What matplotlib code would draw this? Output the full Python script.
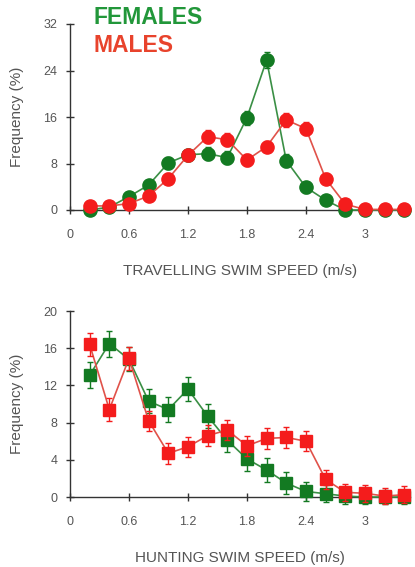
import matplotlib
matplotlib.use("Agg")
import matplotlib.pyplot as plt

plt.rcParams['font.family'] = ['Liberation Sans', 'DejaVu Sans']

speed = [0.2, 0.4, 0.6, 0.8, 1.0, 1.2, 1.4, 1.6, 1.8, 2.0, 2.2, 2.4, 2.6, 2.8, 3.0, 3.2, 3.4]

trav_female = [0.0, 0.5, 2.3, 4.3, 8.1, 9.5, 9.7, 9.0, 15.9, 25.8, 8.5, 3.9, 1.7, 0.0, 0.0, 0.0, 0.0]
trav_female_err = [0.6, 0.6, 0.8, 0.9, 1.0, 1.0, 1.1, 1.1, 1.2, 1.4, 1.1, 0.9, 0.8, 0.5, 0.4, 0.4, 0.4]
trav_male = [0.7, 0.7, 1.1, 2.4, 5.4, 9.4, 12.6, 12.1, 8.6, 10.9, 15.5, 14.0, 5.4, 1.0, 0.1, 0.1, 0.1]
trav_male_err = [0.5, 0.5, 0.6, 0.8, 0.9, 1.0, 1.1, 1.1, 1.0, 1.0, 1.2, 1.1, 0.9, 0.6, 0.4, 0.4, 0.4]

hunt_female = [13.1, 16.5, 14.8, 10.3, 9.4, 11.6, 8.7, 6.1, 4.1, 2.9, 1.5, 0.6, 0.35, 0.1, 0.0, 0.0, 0.0]
hunt_female_err = [1.4, 1.4, 1.3, 1.3, 1.3, 1.3, 1.3, 1.3, 1.3, 1.3, 1.2, 1.0, 0.9, 0.8, 0.7, 0.7, 0.7]
hunt_male = [16.4, 9.4, 14.9, 8.2, 4.7, 5.4, 6.6, 7.2, 5.5, 6.3, 6.4, 6.0, 1.9, 0.5, 0.4, 0.1, 0.25]
hunt_male_err = [1.2, 1.2, 1.2, 1.1, 1.1, 1.1, 1.1, 1.1, 1.1, 1.1, 1.1, 1.1, 1.0, 0.9, 0.9, 0.9, 0.9]

x_ticks = [0, 0.6, 1.2, 1.8, 2.4, 3.0]
x_ticklabels = ["0", "0.6", "1.2", "1.8", "2.4", "3"]
top_yticks = [0, 8, 16, 24, 32]
bot_yticks = [0, 4, 8, 12, 16, 20]

GREEN_MK = '#137a22'
GREEN_LN = '#3a8f45'
RED_MK = '#f41c1c'
RED_LN = '#e0524a'
GRAY = '#555555'

fig = plt.figure(figsize=(4.15, 5.67), dpi=100)
ax1 = fig.add_axes([70/415, 1-210/567, 340/415, 186/567])
ax2 = fig.add_axes([70/415, 1-497/567, 340/415, 186/567])


def style(ax, yticks, xlabel):
    ax.set_xlim(0, 340/98.3)
    ax.set_ylim(0, yticks[-1])
    for s in ['top', 'right']:
        ax.spines[s].set_visible(False)
    ax.spines['left'].set_color('#333333')
    ax.spines['bottom'].set_color('#333333')
    ax.spines['left'].set_linewidth(1.0)
    ax.spines['bottom'].set_linewidth(1.0)
    ax.set_xticks(x_ticks)
    ax.set_xticklabels(x_ticklabels)
    ax.set_yticks(yticks)
    ax.tick_params(direction='inout', length=6, width=1.0, color='#333333',
                   labelcolor=GRAY, labelsize=9)
    ax.tick_params(axis='x', pad=11)
    ax.tick_params(axis='y', pad=6)
    ax.set_xlabel(xlabel, fontsize=11, color=GRAY, labelpad=16)
    ax.set_ylabel('Frequency (%)', fontsize=11, color=GRAY, labelpad=14)
    ax.patch.set_alpha(0)


def series(ax, y, err, mk, mcol, lcol, ms, z):
    ax.plot(speed, y, color=lcol, lw=1.2, zorder=z, clip_on=False)
    ax.errorbar(speed, y, yerr=err, fmt='none', ecolor=mcol, elinewidth=1.0,
                capsize=2, capthick=1.0, zorder=z + 0.5, clip_on=False)
    ax.plot(speed, y, linestyle='none', marker=mk, markersize=ms,
            markerfacecolor=mcol, markeredgecolor=mcol, zorder=z + 1, clip_on=False)


style(ax1, top_yticks, 'TRAVELLING SWIM SPEED (m/s)')
series(ax1, trav_female, trav_female_err, 'o', GREEN_MK, GREEN_LN, 9.5, 3)
series(ax1, trav_male, trav_male_err, 'o', RED_MK, RED_LN, 9.5, 6)

style(ax2, bot_yticks, 'HUNTING SWIM SPEED (m/s)')
series(ax2, hunt_female, hunt_female_err, 's', GREEN_MK, GREEN_LN, 9, 3)
series(ax2, hunt_male, hunt_male_err, 's', RED_MK, RED_LN, 9, 6)

fig.text(93/415, 1-18/567, 'FEMALES', color='#22973a', fontsize=16.5,
         fontweight='bold', ha='left', va='center')
fig.text(93/415, 1-45/567, 'MALES', color='#e8432c', fontsize=16.5,
         fontweight='bold', ha='left', va='center')

fig.savefig('out.png', dpi=100)
